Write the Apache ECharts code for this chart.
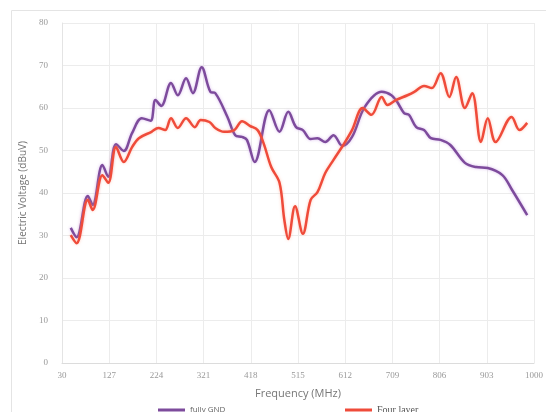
<!DOCTYPE html>
<html>
<head>
<meta charset="utf-8">
<script src="https://cdn.jsdelivr.net/npm/echarts@6/dist/echarts.min.js"></script>
<style>
    html, body {margin: 0; padding: 0; background: #fff;}
    #chart_1 {width: 546px; height: 412px;}
</style>
</head>
<body>
<div id="chart_1"></div>
<script>
// x ticks are 30, 127, ... 1000 (step 97), axis runs on (freq - 30)
var xTicks = [30, 127, 224, 321, 418, 515, 612, 709, 806, 903, 1000];

// fully GND (purple)
var gndFreq = [48, 60, 83, 93, 113, 125, 141, 157, 174, 194, 212, 222, 234, 254, 268, 285, 299, 317, 335, 345,
    370, 386, 400, 410, 426, 456, 477, 495, 511, 525, 541, 555, 571, 588, 606, 626, 652, 687, 707, 719,
    733, 743, 758, 774, 788, 808, 828, 858, 881, 905, 935, 955, 986];
var gndVal = [31.8, 29.6, 39.3, 37.2, 46.6, 43.8, 51.5, 49.9, 54.1, 57.6, 57.0, 61.9, 60.5, 65.9, 63.0, 67.0, 63.5, 69.6, 63.8, 63.5,
    57.9, 53.6, 53.2, 52.5, 47.3, 59.5, 54.4, 59.1, 55.5, 54.8, 52.7, 52.9, 52.0, 53.6, 51.1, 53.2, 60.2, 63.8, 63.0, 61.4,
    58.8, 58.4, 55.5, 54.8, 52.9, 52.5, 51.3, 47.1, 46.1, 45.9, 44.2, 40.7, 34.8];

// Four layer (red)
var fourFreq = [48, 60, 83, 93, 113, 125, 141, 157, 174, 188, 214, 228, 242, 254, 268, 285, 303, 315, 333, 345,
    363, 384, 400, 416, 432, 444, 460, 477, 487, 495, 509, 525, 541, 555, 571, 588, 608, 626, 648, 666,
    687, 699, 717, 740, 754, 774, 790, 808, 826, 840, 858, 873, 891, 905, 921, 954, 970, 986];
var fourVal = [30.1, 28.2, 38.4, 36.0, 44.2, 42.4, 50.8, 47.3, 50.8, 52.9, 54.4, 55.3, 54.8, 57.6, 55.3, 57.6, 55.5, 57.2, 56.7, 55.3,
    54.4, 54.8, 56.9, 55.8, 54.8, 51.8, 46.1, 42.4, 33.6, 29.2, 36.9, 30.4, 38.4, 40.2, 44.7, 47.8, 51.3, 54.8, 60.0, 58.4,
    62.6, 60.7, 61.9, 63.0, 63.8, 65.2, 64.7, 68.2, 62.6, 67.3, 60.0, 63.5, 52.0, 57.6, 52.0, 57.9, 54.8, 56.5];

function pairs(f, v) {
    var out = [];
    for (var i = 0; i < f.length; i++) {
        out.push([f[i] - xTicks[0], v[i]]);
    }
    return out;
}

var chart1 = echarts.init(document.getElementById('chart_1'));
var option = {
    animation: false,
    graphic: [{
        type: 'rect', left: 9, top: 8,
        shape: {width: 545, height: 412},
        style: {fill: 'none', stroke: '#e4e4e4', lineWidth: 1}
    }],
    grid: {left: 62, right: 7, top: 23, bottom: 49},
    legend: [
        {
            data: ['fully GND'], left: 153, top: 401, icon: 'rect', itemWidth: 27, itemHeight: 3,
            textStyle: {fontSize: 8, color: '#666', fontFamily: 'Open Sans'}
        },
        {
            data: ['Four layer'], left: 340, top: 400, icon: 'rect', itemWidth: 27, itemHeight: 3,
            textStyle: {fontSize: 10, color: '#555', fontFamily: 'Liberation Serif'}
        }
    ],
    xAxis: {
        type: 'value', min: 0, max: 970, interval: 97,
        name: 'Frequency (MHz)', nameLocation: 'middle', nameGap: 25,
        nameTextStyle: {fontSize: 11, color: '#777', fontFamily: 'Open Sans'},
        axisLine: {show: true, lineStyle: {color: '#dcdcdc'}},
        axisTick: {show: false},
        axisLabel: {
            fontSize: 9, color: '#999', fontFamily: 'Liberation Serif', margin: 8,
            formatter: function (v) { return String(v + xTicks[0]); }
        },
        splitLine: {show: true, lineStyle: {color: '#ececec'}}
    },
    yAxis: {
        type: 'value', min: 0, max: 80, interval: 10,
        name: 'Electric Voltage (dBuV)', nameLocation: 'middle', nameGap: 33, nameRotate: 90,
        nameTextStyle: {fontSize: 10, color: '#777', fontFamily: 'Open Sans'},
        axisLine: {show: true, lineStyle: {color: '#e4e4e4'}},
        axisTick: {show: false},
        axisLabel: {fontSize: 9, color: '#999', fontFamily: 'Liberation Serif', margin: 14},
        splitLine: {show: true, lineStyle: {color: '#ececec'}}
    },
    series: [
        {
            name: 'fully GND', type: 'line', smooth: 0.35, showSymbol: false,
            data: pairs(gndFreq, gndVal),
            itemStyle: {color: '#7d4b9c'},
            lineStyle: {width: 2.5, color: '#7d4b9c', shadowColor: 'rgba(180,120,220,0.5)', shadowBlur: 3}
        },
        {
            name: 'Four layer', type: 'line', smooth: 0.35, showSymbol: false,
            data: pairs(fourFreq, fourVal),
            itemStyle: {color: '#ef4b3a'},
            lineStyle: {width: 2.5, color: '#ef4b3a', shadowColor: 'rgba(255,150,120,0.5)', shadowBlur: 3}
        }
    ]
};
chart1.setOption(option);
</script>
</body>
</html>
